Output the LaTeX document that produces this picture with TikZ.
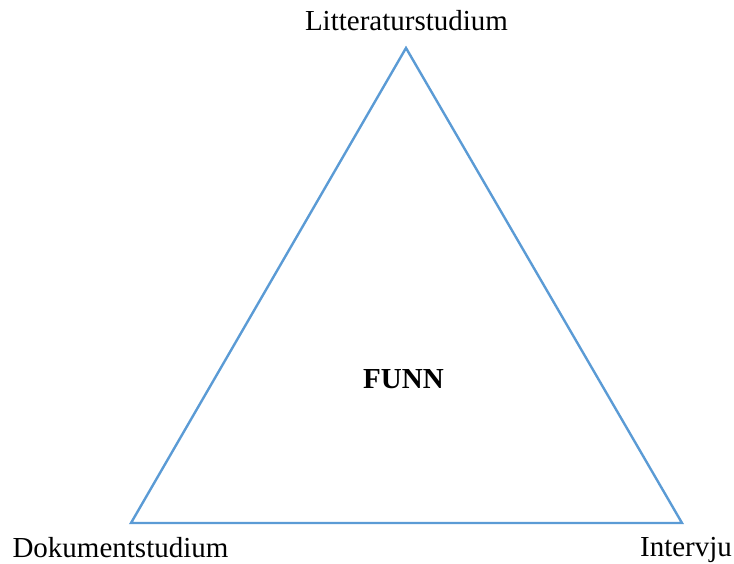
\documentclass[tikz,border=0pt]{standalone}
\usepackage{fontspec}
\setmainfont{Liberation Serif}
\usepackage{tikz}
\usetikzlibrary{positioning}
\definecolor{tblue}{HTML}{5B9BD5}

\begin{document}
\begin{tikzpicture}[x=1pt, y=-1pt,
  lbl/.style={anchor=base, inner sep=0pt, font=\fontsize{29}{34}\selectfont},
  side/.style={draw=tblue, line width=2.4pt, line join=miter}
]
\useasboundingbox (0,0) rectangle (734,564);
\coordinate (top) at (406,48);
\coordinate (left) at (131,523);
\coordinate (right) at (682,523);
\draw[side] (top) -- (left) -- (right) -- cycle;

\node[lbl] (lit) at (406.5,31) {Litteraturstudium};
\node[lbl] (dok) at (120.5,557) {Dokumentstudium};
\node[lbl] (int) at (686,556) {Intervju};
\node[lbl, font=\fontsize{29}{34}\selectfont\bfseries] (funn) at (403.5,388) {FUNN};
\end{tikzpicture}
\end{document}
